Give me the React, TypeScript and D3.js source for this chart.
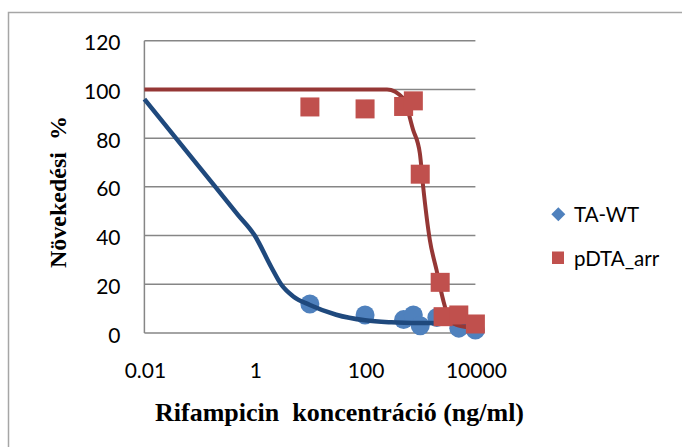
import React from "react";
import * as d3 from "d3";

// ---- data ----
const yTicks = [0, 20, 40, 60, 80, 100, 120];
const xTicks = [0.01, 1, 100, 10000];
const xTickLabels = ["0.01", "1", "100", "10000"];

const wtX = [10, 100, 500, 750, 1000, 2000, 5000, 10000];
const wtY = [11.9, 7.4, 5.5, 7.4, 3, 6.4, 2, 1.2];

const arrX = [10, 100, 500, 750, 1000, 2300, 2600, 5000, 10000];
const arrY = [92.8, 92, 93, 95.3, 65.2, 20.8, 6.7, 7.4, 3.7];

const wtFitX = [0.01, 0.1, 0.5, 1, 2, 3, 5, 10, 30, 100, 300, 1000, 10000];
const wtFitY = [96, 68, 48.4, 40, 27, 20, 15, 11.5, 7.5, 5.2, 4.4, 4.1, 4];

const arrFitX = [0.01, 1, 100, 250, 490, 743, 984, 1130, 1493, 1973, 2600, 3434, 5000, 10000];
const arrFitY = [100, 100, 100, 100, 96.4, 83.4, 73.8, 60.1, 38.2, 25.9, 13.6, 5.3, 3, 2];

const legendNames = ["TA-WT", "pDTA_arr"];

export default function App() {
  const x = d3.scaleLog().domain([0.01, 10000]).range([144.4, 475.4]);
  const y = d3.scaleLinear().domain([0, 120]).range([333, 40.7]);

  const line = d3
    .line<[number, number]>()
    .x((d) => x(d[0]))
    .y((d) => y(d[1]))
    .curve(d3.curveMonotoneX);

  const wtFit = wtFitX.map((v, i) => [v, wtFitY[i]] as [number, number]);
  const arrFit = arrFitX.map((v, i) => [v, arrFitY[i]] as [number, number]);

  const sans = "Lato, 'Open Sans', sans-serif";
  const serif = "'Liberation Serif', 'DejaVu Serif', serif";

  return (
    <svg
      width={682}
      height={447}
      style={{ position: "absolute", left: 0, top: 0, background: "#fff" }}
    >
      <rect x={0} y={0} width={682} height={447} fill="#fff" />
      <rect x={8.5} y={12.5} width={700} height={500} fill="none" stroke="#a6a6a6" strokeWidth={1.5} />

      {/* gridlines */}
      {yTicks.map((t) => (
        <line key={t} x1={144.4} x2={475.4} y1={y(t)} y2={y(t)} stroke="#868686" strokeWidth={1.5} />
      ))}
      <line x1={144.4} x2={144.4} y1={y(120)} y2={y(0)} stroke="#868686" strokeWidth={1.5} />

      {/* y tick labels */}
      {yTicks.map((t) => (
        <text key={t} x={120.5} y={y(t) + 9.5} textAnchor="end" fontFamily={sans} fontSize={21} fill="#000">
          {t}
        </text>
      ))}
      {/* x tick labels */}
      {xTicks.map((t, i) => (
        <text key={t} x={x(t) + 1} y={378} textAnchor="middle" fontFamily={sans} fontSize={21} fill="#000">
          {xTickLabels[i]}
        </text>
      ))}

      {/* axis titles */}
      <text
        x={339.5}
        y={421}
        textAnchor="middle"
        fontFamily={serif}
        fontWeight="bold"
        fontSize={26}
        style={{ whiteSpace: "pre" }}
      >
        {"Rifampicin  koncentráció (ng/ml)"}
      </text>
      <text
        transform="translate(66,192) rotate(-90)"
        textAnchor="middle"
        fontFamily={serif}
        fontWeight="bold"
        fontSize={24}
        style={{ whiteSpace: "pre" }}
      >
        {"Növekedési  %"}
      </text>

      {/* TA-WT markers */}
      {wtX.map((v, i) => (
        <circle key={i} cx={x(v)} cy={y(wtY[i])} r={9.5} fill="#4F81BD" />
      ))}
      {/* fits */}
      <path d={line(wtFit) || ""} fill="none" stroke="#1F497D" strokeWidth={4.5} strokeLinejoin="round" />
      <path d={line(arrFit) || ""} fill="none" stroke="#953735" strokeWidth={4} strokeLinejoin="round" />
      {/* pDTA_arr markers */}
      {arrX.map((v, i) => (
        <rect key={i} x={x(v) - 9.5} y={y(arrY[i]) - 9.5} width={19} height={19} fill="#C0504D" />
      ))}

      {/* legend */}
      <path d="M558.3,207.3 L565.3,214.3 L558.3,221.3 L551.3,214.3 Z" fill="#4F81BD" />
      <text x={574} y={221.7} fontFamily={sans} fontSize={20.5} fill="#000">
        {legendNames[0]}
      </text>
      <rect x={552} y={251.5} width={12} height={12.5} fill="#C0504D" />
      <text x={574} y={265.7} fontFamily={sans} fontSize={20.5} fill="#000">
        {legendNames[1]}
      </text>
    </svg>
  );
}
